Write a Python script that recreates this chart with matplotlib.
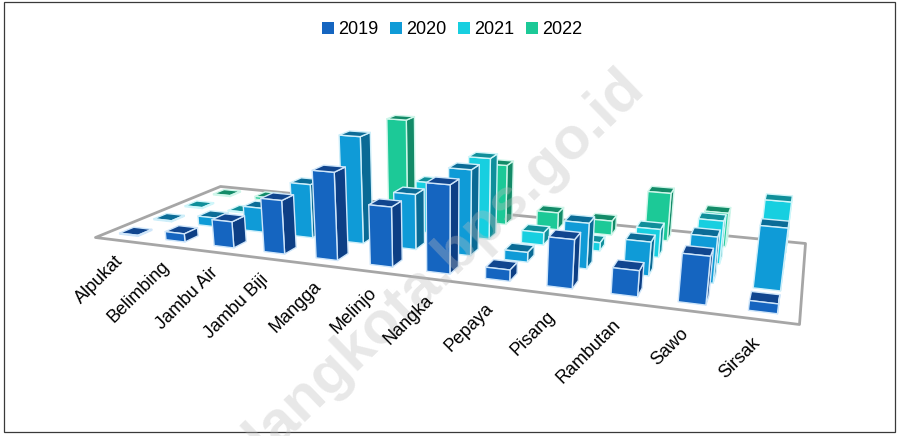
import numpy as np
import matplotlib
matplotlib.use("Agg")
import matplotlib.pyplot as plt
from matplotlib.patches import Patch, Rectangle
from mpl_toolkits.mplot3d.art3d import Poly3DCollection

plt.rcParams['font.family'] = ['Liberation Sans', 'DejaVu Sans']

categories = ['Alpukat', 'Belimbing', 'Jambu Air', 'Jambu Biji', 'Mangga', 'Melinjo',
              'Nangka', 'Pepaya', 'Pisang', 'Rambutan', 'Sawo', 'Sirsak']
years = ['2019', '2020', '2021', '2022']
v2019 = [1, 8, 25, 50, 80, 54, 78, 10, 42, 22, 40, 8]
v2020 = [1, 9, 24, 52, 101, 52, 79, 9, 41, 30, 40, 53]
v2021 = [1, 1, 6, 12, 15, 50, 78, 12, 8, 26, 39, 61]
v2022 = [1, 3, 4, 5, 98, 30, 60, 17, 14, 46, 32, 20]
values = [v2019, v2020, v2021, v2022]

front_cols = ['#1565C0', '#0F9BD7', '#17CFE0', '#1CC997']
side_cols = ['#0D3F85', '#0A6A95', '#0F8F9B', '#138B68']
top_cols = ['#11468F', '#0B6C97', '#108F9A', '#138B68']
edge_cols = ['#CFE6FA', '#CFEFFA', '#CFF6FA', '#CFF6EA']

W, H = 897, 436
fig = plt.figure(figsize=(W / 100, H / 100), dpi=100)
ax = fig.add_axes([0, 0, 1, 1], projection='3d')
ax.set_axis_off()
ax.computed_zorder = False

# camera: floor corners (data) -> picture location, plus the vertical vanishing point
floor_src = [(0, 0), (12, 0), (12, 4), (0, 4)]
floor_dst = [(95, 237), (799, 324), (805, 243), (220, 186)]
A, b = [], []
for (x, y), (u, v) in zip(floor_src, floor_dst):
    A.append([x, y, 1, 0, 0, 0, -u * x, -u * y]); b.append(u)
    A.append([0, 0, 0, x, y, 1, -v * x, -v * y]); b.append(v)
h = np.linalg.solve(np.array(A, float), np.array(b, float))
vp = np.array([442.0, 3070.0, 1.0])
lam = -1.0 / (3070.0 - 237.0)
P = np.array([[h[0], h[1], lam * vp[0], h[2]],
              [h[3], h[4], lam * vp[1], h[5]],
              [h[6], h[7], lam * vp[2], 1.0]])


def get_proj():
    inv = ax.transData.inverted().get_matrix()
    dy = H * P[2] - P[1]
    du = P[0]
    r0 = inv[0, 0] * du + inv[0, 1] * dy + inv[0, 2] * P[2]
    r1 = inv[1, 0] * du + inv[1, 1] * dy + inv[1, 2] * P[2]
    return np.array([r0, r1, [0, 0, 0, -1.0], P[2]])


ax.get_proj = get_proj


def to_figure(x, y, z):
    u, v, w = P @ np.array([x, y, z, 1.0])
    return u / w / W, 1 - v / w / H


floor = Poly3DCollection([[(0, 0, 0), (12, 0, 0), (12, 4, 0), (0, 4, 0)]],
                         facecolors='white', edgecolors='#A6A6A6', linewidths=2.0, zorder=1)
floor.set_clip_on(False)
ax.add_collection3d(floor)

bw, bd = 0.40, 0.40
for r in range(3, -1, -1):
    for c in range(12):
        x0, x1 = c + 0.5 - bw / 2, c + 0.5 + bw / 2
        y0, y1 = r + 0.5 - bd / 2, r + 0.5 + bd / 2
        z = values[r][c]
        faces = [[(x0, y0, 0), (x1, y0, 0), (x1, y0, z), (x0, y0, z)],
                 [(x1, y0, 0), (x1, y1, 0), (x1, y1, z), (x1, y0, z)],
                 [(x0, y0, z), (x1, y0, z), (x1, y1, z), (x0, y1, z)]]
        poly = Poly3DCollection(faces, facecolors=[front_cols[r], side_cols[r], top_cols[r]],
                                edgecolors=edge_cols[r], linewidths=1.0,
                                zorder=10 + (3 - r) * 100 + c)
        poly.set_clip_on(False)
        ax.add_collection3d(poly)

for c, name in enumerate(categories):
    fx, fy = to_figure(0.9 + c * 0.955, -0.6, 0)
    fig.text(fx, fy, name, fontsize=13, rotation=45, ha='right', va='top',
             rotation_mode='anchor', color='black', zorder=6)

handles = [Patch(facecolor=front_cols[i], edgecolor='none', label=years[i]) for i in range(4)]
fig.legend(handles=handles, loc='center', bbox_to_anchor=(0.504, 1 - 29.5 / 436), ncol=4,
           frameon=False, fontsize=13, handlelength=0.65, handleheight=0.65,
           handletextpad=0.25, columnspacing=0.64, borderpad=0)

fig.text(616 / W, 1 - 59 / H, 'malangkota.bps.go.id', fontsize=43, fontweight='bold', rotation=44,
         ha='right', va='top', rotation_mode='anchor', color='#BDBDBD', alpha=0.35, zorder=5)

fig.add_artist(Rectangle((4 / W, 1 - 432 / H), 891 / W, 430 / H, transform=fig.transFigure,
                         fill=False, edgecolor='#3A3A3A', linewidth=0.9))

fig.savefig('out.png', dpi=100)
